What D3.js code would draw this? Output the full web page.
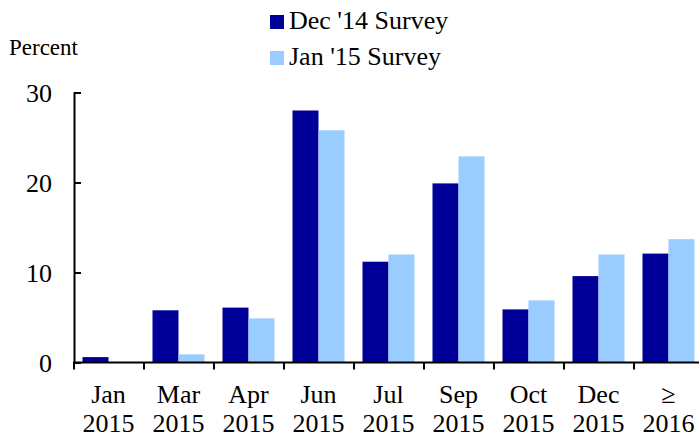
<!DOCTYPE html>
<html>
<head>
<meta charset="utf-8">
<script src="https://cdn.jsdelivr.net/npm/d3@7"></script>
<style>
  html, body { margin: 0; padding: 0; background: #fff; overflow: hidden; }
  svg { display: block; }
  svg text { font-family: "Liberation Serif", "Times New Roman", Times, serif !important; fill: #000; }
</style>
</head>
<body>
<svg id="chart" width="699" height="437"></svg>
<script>
const categoriesTop = ["Jan", "Mar", "Apr", "Jun", "Jul", "Sep", "Oct", "Dec", "\u2265"];
const categoriesBottom = ["2015", "2015", "2015", "2015", "2015", "2015", "2015", "2015", "2016"];
const seriesNames = ["Dec '14 Survey", "Jan '15 Survey"];
const dec14 = [0.6, 5.8, 6.1, 28.0, 11.2, 19.9, 5.9, 9.6, 12.1];
const jan15 = [0.0, 0.9, 4.9, 25.8, 12.0, 22.9, 6.9, 12.0, 13.7];
const yTicks = [0, 10, 20, 30];
const colors = ["#000099", "#99CCFF"];

const FONT = "'Liberation Serif', 'Times New Roman', Times, serif";
const svg = d3.select("#chart").attr("font-family", FONT);
const cats = categoriesTop.map((d, i) => i);

const x = d3.scaleBand().domain(cats).range([73.5, 703.5]).paddingInner(0).paddingOuter(0);
const xs = d3.scaleBand().domain(seriesNames).range([0, x.bandwidth()]).paddingInner(0).paddingOuter(9 / 26);
const y = d3.scaleLinear().domain([0, 30]).range([362.5, 92.5]);

const values = [dec14, jan15];

// bars
const g = svg.append("g");
cats.forEach(ci => {
  seriesNames.forEach((s, si) => {
    const v = values[si][ci];
    if (v <= 0) return;
    g.append("rect")
      .attr("x", x(ci) + xs(s))
      .attr("y", y(v))
      .attr("width", xs.bandwidth())
      .attr("height", y(0) - y(v))
      .attr("fill", colors[si]);
  });
});

// y axis
const yAxis = d3.axisLeft(y).tickValues(yTicks).tickSize(-7).tickPadding(22).tickFormat(d3.format("d"));
const ya = svg.append("g").attr("transform", "translate(74,0)").call(yAxis).attr("font-family", FONT);
ya.select(".domain").attr("stroke", "#000").attr("stroke-width", 2);
ya.selectAll(".tick line").attr("stroke", "#000").attr("stroke-width", 2);
ya.selectAll(".tick text").attr("font-family", FONT).style("font-size", "26px").attr("dy", "0.34em");

// x axis
const xa = svg.append("g");
xa.append("line").attr("x1", 73).attr("x2", 703.5).attr("y1", 362.5).attr("y2", 362.5)
  .attr("stroke", "#000").attr("stroke-width", 2);
xa.selectAll(".xtick").data(cats.concat([cats.length])).enter().append("line")
  .attr("x1", d => d < cats.length ? x(d) + 0.5 : x(cats.length - 1) + x.bandwidth())
  .attr("x2", d => d < cats.length ? x(d) + 0.5 : x(cats.length - 1) + x.bandwidth())
  .attr("y1", 362.5).attr("y2", 369.5)
  .attr("stroke", "#000").attr("stroke-width", 2);
const lab = xa.selectAll(".xlab").data(cats).enter().append("text")
  .attr("text-anchor", "middle")
  .attr("font-family", FONT)
  .style("font-size", "26px");
lab.append("tspan").attr("x", d => x(d) + x.bandwidth() / 2).attr("y", 403).text(d => categoriesTop[d]);
lab.append("tspan").attr("x", d => x(d) + x.bandwidth() / 2).attr("y", 432).text(d => categoriesBottom[d]);

// y label
svg.append("text").attr("x", 9).attr("y", 55).attr("font-family", FONT).style("font-size", "23px").text("Percent");

// legend
const leg = svg.append("g");
seriesNames.forEach((s, i) => {
  leg.append("rect").attr("x", 270).attr("y", 15 + i * 36).attr("width", 14).attr("height", 14).attr("fill", colors[i]);
  leg.append("text").attr("x", 289).attr("y", 28.5 + i * 36).attr("font-family", FONT).style("font-size", "26px").text(s);
});
</script>
</body>
</html>
